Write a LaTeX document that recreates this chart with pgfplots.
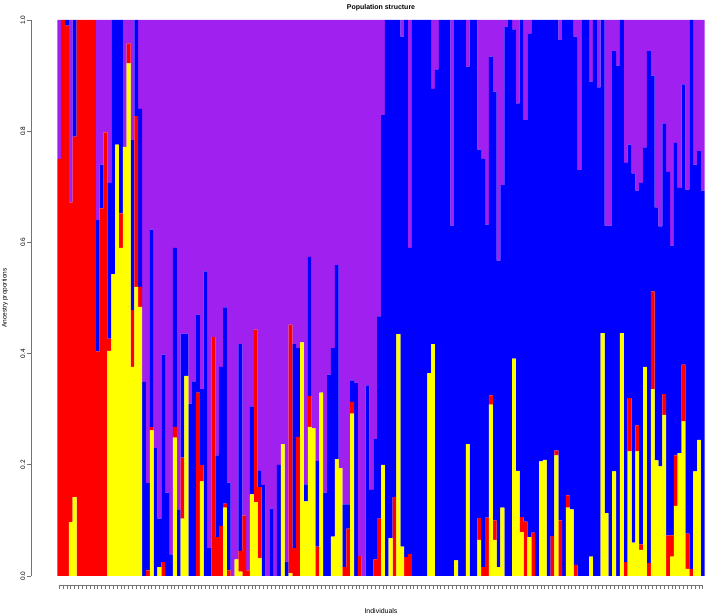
\documentclass[border=0pt]{standalone}
\usepackage{pgfplots}
\pgfplotsset{compat=1.18}
\usepackage{pgfplotstable}
\usepackage{fontspec}
\setmainfont{Liberation Sans}
\definecolor{rpurple}{RGB}{160,32,240}
\definecolor{ryellow}{RGB}{255,255,0}
\definecolor{rred}{RGB}{255,0,0}
\definecolor{rblue}{RGB}{0,0,255}

\pgfplotstableread{
k Y R B P
1 0 0.75 0 0.25
2 0 1 0 0
3 0 0.99 0.01 0
4 0.097 0.575 0 0.328
5 0.142 0.648 0.21 0
6 0 1 0 0
7 0 1 0 0
8 0 1 0 0
9 0 1 0 0
10 0 1 0 0
11 0 0.404 0.236 0.36
12 0 0.661 0.079 0.26
13 0 0.798 0 0.202
14 0.405 0.022 0.28 0.293
15 0.543 0 0.457 0
16 0.776 0 0.224 0
17 0.59 0.062 0.348 0
18 0.772 0 0 0.228
19 0.922 0.036 0 0.042
20 0.376 0.102 0.306 0.216
21 0.52 0.307 0.173 0
22 0.484 0.036 0.32 0.16
23 0 0 0.349 0.651
24 0 0.01 0.157 0.833
25 0.262 0.006 0.355 0.377
26 0 0 0.23 0.77
27 0.016 0 0.087 0.897
28 0 0.025 0.373 0.602
29 0 0 0.15 0.85
30 0 0 0.039 0.961
31 0.249 0.019 0.322 0.41
32 0 0 0.12 0.88
33 0.103 0.11 0.223 0.564
34 0.36 0 0.076 0.564
35 0 0 0.31 0.69
36 0 0 0.35 0.65
37 0 0.33 0.14 0.53
38 0.17 0.03 0.136 0.664
39 0 0 0.548 0.452
40 0 0 0.05 0.95
41 0 0.43 0 0.57
42 0 0.07 0.147 0.783
43 0 0.09 0.286 0.624
44 0.123 0.007 0.353 0.517
45 0 0.01 0.158 0.832
46 0 0 0 1
47 0.03 0 0 0.97
48 0.008 0.037 0.372 0.583
49 0 0.109 0 0.891
50 0 0.01 0 0.99
51 0.147 0 0.158 0.695
52 0.133 0.31 0 0.557
53 0.032 0.128 0.029 0.811
54 0 0 0.164 0.836
55 0 0 0 1
56 0 0 0.121 0.879
57 0 0 0 1
58 0 0 0.2 0.8
59 0.237 0 0 0.763
60 0 0 0.026 0.974
61 0.005 0.447 0 0.548
62 0 0.05 0.367 0.583
63 0 0.25 0.16 0.59
64 0.42 0 0 0.58
65 0.134 0 0.031 0.835
66 0.268 0.056 0.25 0.426
67 0.266 0 0 0.734
68 0 0.053 0.154 0.793
69 0.33 0 0 0.67
70 0 0 0.15 0.85
71 0 0 0.362 0.638
72 0.071 0 0.339 0.59
73 0.21 0 0.349 0.441
74 0.194 0 0 0.806
75 0 0.016 0.113 0.871
76 0 0.085 0.044 0.871
77 0.292 0.021 0.039 0.648
78 0 0 0.348 0.652
79 0 0.036 0 0.964
80 0 0 0 1
81 0 0 0.343 0.657
82 0 0 0.155 0.845
83 0 0.03 0.216 0.754
84 0 0.103 0.364 0.533
85 0.2 0 0.629 0.171
86 0 0 1 0
87 0.068 0 0.932 0
88 0 0.142 0.858 0
89 0.435 0 0.565 0
90 0.053 0 0.917 0.03
91 0 0.034 0.966 0
92 0 0.04 0.55 0.41
93 0 0 1 0
94 0 0 1 0
95 0 0 1 0
96 0 0 1 0
97 0.365 0 0.635 0
98 0.417 0 0.459 0.124
99 0 0 0.911 0.089
100 0 0 1 0
101 0 0 1 0
102 0 0 1 0
103 0 0 0.63 0.37
104 0.028 0 0.972 0
105 0 0 1 0
106 0 0 1 0
107 0.237 0 0.679 0.084
108 0 0 1 0
109 0 0 1 0
110 0.065 0.039 0.663 0.233
111 0 0.016 0.734 0.25
112 0 0.105 0.527 0.368
113 0.308 0.017 0.609 0.066
114 0.065 0.035 0.771 0.129
115 0.016 0 0.551 0.433
116 0.123 0 0.58 0.297
117 0 0 0.987 0.013
118 0 0 1 0
119 0.391 0 0.592 0.017
120 0.189 0 0.661 0.15
121 0.079 0.027 0.894 0
122 0 0.098 0.722 0.18
123 0.07 0 0.905 0.025
124 0 0.078 0.922 0
125 0 0 1 0
126 0.206 0 0.794 0
127 0.209 0 0.791 0
128 0 0 1 0
129 0 0.072 0.928 0
130 0.217 0.009 0.774 0
131 0 0.1 0.864 0.036
132 0 0 1 0
133 0.123 0.022 0.855 0
134 0.12 0 0.88 0
135 0 0.02 0.95 0.03
136 0 0 0.73 0.27
137 0 0 1 0
138 0 0 1 0
139 0.035 0 0.854 0.111
140 0 0 1 0
141 0 0 0.879 0.121
142 0.437 0 0.563 0
143 0.113 0 0.517 0.37
144 0 0 0.63 0.37
145 0.188 0 0.756 0.056
146 0 0 0.918 0.082
147 0.437 0 0.563 0
148 0 0.025 0.718 0.257
149 0.224 0.096 0.456 0.224
150 0.06 0 0.664 0.276
151 0.224 0.047 0.422 0.307
152 0.047 0.01 0.65 0.293
153 0.376 0 0.395 0.229
154 0 0.023 0.921 0.056
155 0.336 0.176 0.388 0.1
156 0.208 0 0.455 0.337
157 0.197 0 0.432 0.371
158 0.29 0.037 0.487 0.186
159 0 0.073 0.654 0.273
160 0.035 0.038 0.521 0.406
161 0.126 0.091 0.562 0.221
162 0.221 0 0.477 0.302
163 0.278 0.102 0.504 0.116
164 0.013 0.063 0.619 0.305
165 0 0.013 0.987 0
166 0.188 0 0.552 0.26
167 0.245 0 0.519 0.236
168 0 0 0.693 0.307
}\data

\begin{document}
\begin{tikzpicture}[x=1bp,y=1bp]
\path[use as bounding box] (0,0) rectangle (708,616);
\begin{axis}[
  at={(31bp,31bp)}, anchor=south west,
  scale only axis, width=673.7bp, height=565bp,
  xmin=-6.325, xmax=168.5, ymin=-0.01619, ymax=1,
  ybar stacked, bar width=1,
  axis x line*=bottom, axis y line*=left,
  axis line style={draw=none},
  tick style={black!55, line width=0.7bp},
  tick align=outside, major tick length=4bp,
  xtick={1,...,168}, xticklabels={},
  ytick={0,0.2,0.4,0.6,0.8,1},
  /pgf/number format/assume math mode=true,
  yticklabel={\pgfmathprintnumber[fixed,fixed zerofill,precision=1]{\tick}},
  yticklabel style={rotate=90, anchor=south, font=\fontsize{6.5}{7}\selectfont, inner sep=1.5bp},
  title={Population structure},
  every axis title/.style={at={(rel axis cs:0.5195,1.0212)}, anchor=center, font=\bfseries\fontsize{7}{8}\selectfont},
  xlabel={Individuals},
  every axis x label/.style={at={(rel axis cs:0.5195,-0.046)}, anchor=center, font=\fontsize{7}{8}\selectfont},
  ylabel={Ancestry proportions},
  every axis y label/.style={at={(rel axis cs:-0.0386,0.508)}, anchor=center, rotate=90, font=\fontsize{6.5}{7}\selectfont},
  clip=false,
]
\addplot[fill=ryellow, draw=none] table[x=k, y=Y] {\data};
\addplot[fill=rred, draw=none] table[x=k, y=R] {\data};
\addplot[fill=rblue, draw=none] table[x=k, y=B] {\data};
\addplot[fill=rpurple, draw=none] table[x=k, y=P] {\data};
\draw[black!55, line width=0.7bp] (axis cs:-6.325,0) -- (axis cs:-6.325,1);
\draw[black!55, line width=0.7bp] (axis cs:1,-0.01619) -- (axis cs:168,-0.01619);
\end{axis}
\end{tikzpicture}
\end{document}
